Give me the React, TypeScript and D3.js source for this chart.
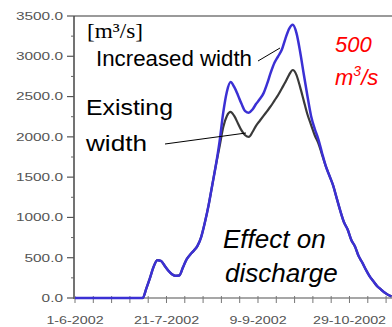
import React from 'react'
import * as d3 from 'd3'

// days after 1-6-2002
const days = [0, 10, 20, 30, 37, 39, 41, 43, 45, 47, 49, 51, 53, 55, 57, 59, 61, 63, 65, 67, 69, 71, 73, 75, 77, 79, 81, 83, 85, 87, 89, 91, 93, 95, 97, 99, 101, 103, 105, 107, 109, 111, 113, 115, 117, 119, 121, 123, 125, 127, 129, 131, 133, 135, 137, 139, 141, 143, 145, 147, 149, 151, 153, 155, 157, 159, 161, 163, 165, 167, 169, 171, 173]

const increasedWidth = [0, 0, 0, 0, 0, 120, 250, 390, 470, 460, 400, 340, 295, 275, 280, 380, 480, 540, 590, 650, 760, 940, 1150, 1400, 1650, 1940, 2300, 2560, 2680, 2620, 2520, 2410, 2320, 2300, 2340, 2410, 2470, 2540, 2660, 2800, 2920, 3000, 3080, 3220, 3340, 3390, 3290, 3060, 2780, 2510, 2260, 2100, 1970, 1800, 1640, 1520, 1400, 1240, 1080, 940, 850, 720, 640, 520, 440, 350, 270, 210, 150, 110, 70, 40, 20]

const existingWidth = [0, 0, 0, 0, 0, 120, 250, 390, 470, 460, 400, 340, 295, 275, 280, 380, 480, 540, 590, 650, 760, 940, 1150, 1400, 1650, 1880, 2120, 2260, 2310, 2260, 2170, 2080, 2020, 2000, 2060, 2140, 2200, 2260, 2320, 2380, 2450, 2520, 2600, 2680, 2770, 2830, 2770, 2620, 2450, 2280, 2150, 2020, 1920, 1780, 1640, 1520, 1400, 1240, 1080, 940, 850, 720, 640, 520, 440, 350, 270, 210, 150, 110, 70, 40, 20]

const yTicks = [0, 500, 1000, 1500, 2000, 2500, 3000, 3500]
const xTickLabels = ['1-6-2002', '21-7-2002', '9-9-2002', '29-10-2002']

const start = new Date(2002, 5, 1)
const sans = 'Liberation Sans, Arial, sans-serif'

export default function App() {
  const x = d3.scaleTime()
    .domain([start, d3.timeDay.offset(start, 174)])
    .range([75, 393.4])
  const y = d3.scaleLinear().domain([0, 3500]).range([298, 16])

  const parse = d3.timeParse('%d-%m-%Y')
  const fmt = d3.format('.1f')

  const line = d3.line<[number, number]>()
    .x(d => x(d3.timeDay.offset(start, d[0])))
    .y(d => y(d[1]))
    .curve(d3.curveMonotoneX)

  const blue = line(days.map((d, i) => [d, increasedWidth[i]]))
  const black = line(days.map((d, i) => [d, existingWidth[i]]))

  const minorY = d3.range(250, 3500, 500)
  const xTicks = d3.range(0, 175, 10).map(d => d3.timeDay.offset(start, d))

  return (
    <svg width={392} height={327} style={{ position: 'absolute', left: 0, top: 0, background: '#fff' }}>
      {/* frame */}
      <line x1={74} x2={392} y1={16} y2={16} stroke="#9a9a9a" strokeWidth={2} />
      <line x1={74} x2={392} y1={298} y2={298} stroke="#8a8a8a" strokeWidth={1.5} />
      <line x1={74} x2={74} y1={16} y2={299} stroke="#444" strokeWidth={1.5} />

      {/* y axis */}
      {yTicks.map(v => (
        <g key={v}>
          <line x1={67} x2={74} y1={y(v)} y2={y(v)} stroke="#555" strokeWidth={1.2} />
          <g transform={`translate(63,${y(v)}) scale(1.4,1)`}>
            <text textAnchor="end" dy="0.35em" fontFamily={sans} fontSize={11} fill="#555">{fmt(v)}</text>
          </g>
        </g>
      ))}
      {minorY.map(v => (
        <line key={v} x1={71} x2={74} y1={y(v)} y2={y(v)} stroke="#666" strokeWidth={1} />
      ))}

      {/* x axis */}
      {xTicks.map((d, i) => (
        <line key={i} x1={x(d)} x2={x(d)} y1={296} y2={303} stroke="#777" strokeWidth={1} />
      ))}
      {xTickLabels.map(s => (
        <g key={s} transform={`translate(${x(parse(s) as Date)},324) scale(1.3,1)`}>
          <text textAnchor="middle" fontFamily={sans} fontSize={11} fill="#555">{s}</text>
        </g>
      ))}

      {/* series */}
      <path d={black ?? ''} fill="none" stroke="#3a3a3a" strokeWidth={2.2} strokeLinejoin="round" />
      <path d={blue ?? ''} fill="none" stroke="#3b30d4" strokeWidth={2.5} strokeLinejoin="round" />

      {/* annotations */}
      <text x={87} y={38} fontFamily="Liberation Serif, Times New Roman, serif" fontSize={21} textLength={56} lengthAdjust="spacingAndGlyphs">[m³/s]</text>
      <text x={96} y={66} fontFamily={sans} fontSize={22} textLength={156} lengthAdjust="spacingAndGlyphs">Increased width</text>
      <line x1={258} y1={61} x2={280} y2={48} stroke="#000" strokeWidth={1} />
      <text x={86} y={115} fontFamily={sans} fontSize={22} textLength={87} lengthAdjust="spacingAndGlyphs">Existing</text>
      <text x={86} y={151} fontFamily={sans} fontSize={22} textLength={61} lengthAdjust="spacingAndGlyphs">width</text>
      <line x1={165} y1={144} x2={246} y2={133} stroke="#000" strokeWidth={1} />

      <text x={335} y={52} fontFamily={sans} fontSize={22} fontStyle="italic" fill="#ff0000">500</text>
      <text x={335} y={85} fontFamily={sans} fontSize={22} fontStyle="italic" fill="#ff0000">
        m<tspan dy={-9} fontSize={14}>3</tspan><tspan dy={9}>/s</tspan>
      </text>

      <text x={223} y={248} fontFamily={sans} fontSize={26} fontStyle="italic" fill="#000">Effect on</text>
      <text x={225} y={282} fontFamily={sans} fontSize={26} fontStyle="italic" fill="#000">discharge</text>
    </svg>
  )
}
